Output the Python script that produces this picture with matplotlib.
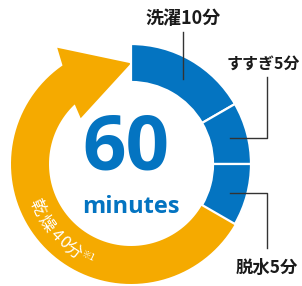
import numpy as np
import matplotlib
matplotlib.use("Agg")
import matplotlib.pyplot as plt
from matplotlib.patches import Wedge, Polygon

# data
steps = ["洗濯", "すすぎ", "脱水", "乾燥"]
minutes = [10, 5, 5, 40]
labels = ["洗濯10分", "すすぎ5分", "脱水5分", "乾燥40分"]
total_label = "60"
unit_label = "minutes"

BLUE = "#0474c1"
ORANGE = "#f5aa00"
JP = ["Noto Sans CJK JP", "DejaVu Sans"]

W, H = 302, 286
cx, cy = 131, 286 - 164
r_out, r_in = 120, 82

fig = plt.figure(figsize=(W / 100, H / 100), dpi=100)
ax = fig.add_axes([0, 0, 1, 1])
ax.set_xlim(0, W)
ax.set_ylim(0, H)
ax.set_aspect("equal")
ax.axis("off")


def pt(r, deg):
    a = np.radians(deg)
    return cx + r * np.cos(a), cy + r * np.sin(a)


total = sum(minutes)
angles = [90]
for m in minutes:
    angles.append(angles[-1] - 360 * m / total)

# orange drying arc with arrow head
a0, a1 = angles[3], angles[4]
outer = [pt(r_out, a) for a in np.linspace(a0, a1 + 34.8, 80)]
head = [pt(137.7, a1 + 32.4), pt(100.7, a1), pt(68, a1 + 47.7), pt(81.3, a1 + 43.5)]
inner = [pt(r_in, a) for a in np.linspace(a1 + 43.5, a0, 80)]
ax.add_patch(Polygon(outer + head + inner, closed=True, facecolor=ORANGE, edgecolor="none"))

# blue wedges
for i in range(3):
    ax.add_patch(Wedge((cx, cy), r_out, angles[i + 1], angles[i], width=r_out - r_in,
                       facecolor=BLUE, edgecolor="white", linewidth=1.6))

# centre text
ax.text(cx - 5, cy + 14, total_label, ha="center", va="center", fontsize=55,
        fontweight="bold", family="Open Sans", color=BLUE)
ax.text(cx, cy - 43, unit_label, ha="center", va="center", fontsize=17,
        fontweight="bold", family="Open Sans", color=BLUE)

# leader lines and labels
lc = "#333333"
tc = "#1a1a1a"
ax.plot([183, 183], [H - 32, H - 79], color=lc, lw=1)
ax.text(183, H - 19, labels[0], ha="center", va="center", fontsize=13,
        family=JP, fontweight="bold", color=tc)

ax.plot([267, 267, 230], [H - 77, H - 138, H - 138], color=lc, lw=1)
ax.text(263, H - 64, labels[1], ha="center", va="center", fontsize=11.5,
        family=JP, fontweight="bold", color=tc)

ax.plot([230, 267, 267], [H - 193, H - 193, H - 248], color=lc, lw=1)
ax.text(267, H - 268, labels[2], ha="center", va="center", fontsize=12.5,
        family=JP, fontweight="bold", color=tc)

# curved drying label
chars = list(labels[3])
char_ang = [204.6, 214.8, 223.6, 229.4, 236.2]
for ch, a in zip(chars, char_ang):
    x, y = pt(104, a)
    ax.text(x, y, ch, ha="center", va="center", fontsize=12, family=JP,
            color="white", rotation=a + 90, rotation_mode="anchor")
x, y = pt(102, 245.3)
ax.text(x, y, "※1", ha="center", va="center", fontsize=6.5, family=JP,
        color="white", rotation=245.3 + 90, rotation_mode="anchor")

fig.savefig("out.png", dpi=100, facecolor="white")
